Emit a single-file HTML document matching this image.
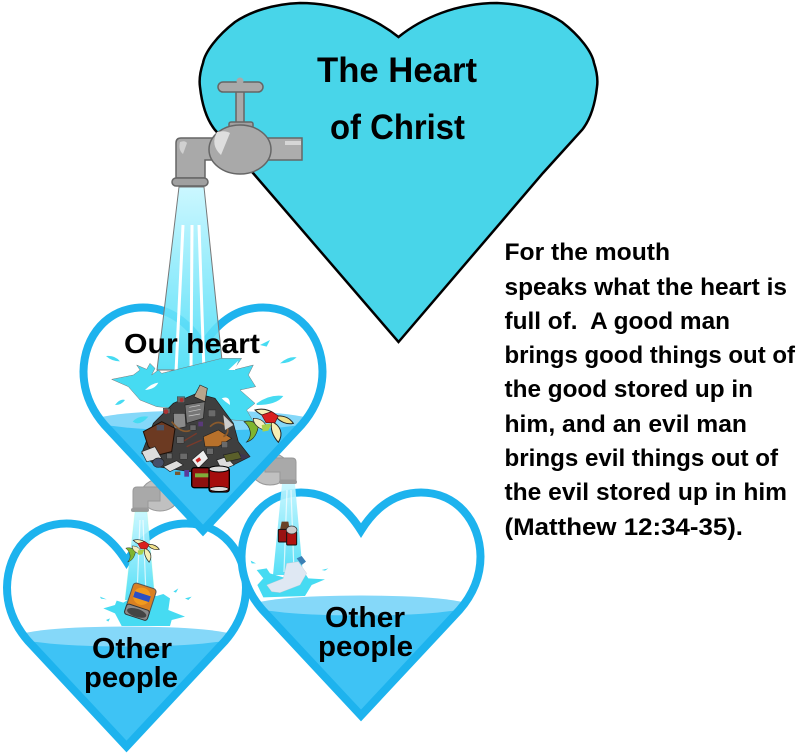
<!DOCTYPE html>
<html><head><meta charset="utf-8"><style>
html,body{margin:0;padding:0;background:#fff}
svg{display:block}
text{font-family:"Liberation Sans",sans-serif;font-weight:bold;fill:#000}
</style></head><body>
<svg width="799" height="755" viewBox="0 0 799 755" xmlns="http://www.w3.org/2000/svg">
<defs>
<path id="hp" d="M0,42C-15,18-35,4-60,4C-95,4-119,32-119.5,68C-119.5,88-112,106-98,122L0,227L98,122C112,106,119.5,88,119.5,68C119,32,95,4,60,4C35,4,15,18,0,42Z"/>
<clipPath id="hc"><use href="#hp"/></clipPath>
<linearGradient id="st" x1="0" y1="0" x2="0" y2="1"><stop offset="0" stop-color="#c4f6ff"/><stop offset=".6" stop-color="#78e6fa"/><stop offset="1" stop-color="#45dcf5"/></linearGradient>
<g id="heart">
<use href="#hp" fill="#fff"/>
<g clip-path="url(#hc)"><rect x="-130" y="117" width="260" height="125" fill="#3ec3f5"/><ellipse cx="0" cy="117" rx="108" ry="10" fill="#85d8f9"/></g>
<use href="#hp" fill="none" stroke="#1db3ee" stroke-width="8" stroke-miterlimit="8"/>
</g>
<g id="peel">
<path d="M462,395C480,390 495,395 505,410C500,435 490,450 470,456C490,435 480,410 462,395Z" fill="#7fb52f" stroke="#222" stroke-width="2"/>
<path d="M495,360C525,352 550,365 560,378C540,385 515,380 495,360Z" fill="#f6efb5" stroke="#222" stroke-width="3"/>
<path d="M555,378C585,375 600,385 610,400C590,405 570,395 555,378Z" fill="#f0e08a" stroke="#222" stroke-width="3"/>
<path d="M545,395C570,405 582,430 565,457C550,440 540,420 545,395Z" fill="#f6efb5" stroke="#222" stroke-width="3"/>
<path d="M490,385C510,385 530,395 530,420C510,420 490,405 490,385Z" fill="#f3eec0" stroke="#222" stroke-width="2"/>
<path d="M515,375L545,365L565,378L555,398L528,398Z" fill="#d92020" stroke="#511" stroke-width="2"/>
<path d="M515,405L545,400L535,422L518,425Z" fill="#a8d14a"/>
</g>
</defs>

<!-- big heart -->
<path d="M398.5,37C375,18,340,3,300,3C272,4,250,12,235,22C217,36,205,52,203,63C200,72,199,80,200,87C202,105,207,120,215,130L253,173L398.5,342L543,173L582,130C590,120,595,105,597,87C598,80,597,72,594,63C592,52,580,36,562,22C547,12,525,4,497,3C457,3,422,18,398.5,37Z" fill="#48d5e9" stroke="#000" stroke-width="2.5"/>
<text x="317" y="82" font-size="35" textLength="160" lengthAdjust="spacingAndGlyphs">The Heart</text>
<text x="330" y="139" font-size="35" textLength="135" lengthAdjust="spacingAndGlyphs">of Christ</text>

<!-- small faucets behind our heart -->
<g>
<ellipse cx="160" cy="495" rx="19" ry="16" fill="#c0c0c0" stroke="#999"/>
<path d="M133,508V491Q133,487,137,487H160V501H148V508Z" fill="#a9a9a9" stroke="#999"/>
<rect x="131" y="508" width="18" height="4" rx="2" fill="#999"/>
<ellipse cx="270" cy="469" rx="19" ry="16" fill="#c0c0c0" stroke="#999"/>
<path d="M296,480V462Q296,458,292,458H265V472H280V480Z" fill="#a9a9a9" stroke="#999"/>
<rect x="279" y="480" width="18" height="4" rx="2" fill="#999"/>
</g>

<!-- hearts -->
<use href="#heart" transform="translate(126.5,519.5)"/>
<use href="#heart" transform="translate(361,488.5)"/>
<use href="#heart" transform="translate(203,303.5)"/>

<!-- small streams -->
<path d="M135,512H147L155,600H125Z" fill="url(#st)" fill-opacity=".9" stroke="#8fb" stroke-opacity=".2"/>
<path d="M140,520L137,595M143,520L146,595" stroke="#fff" stroke-width="1.2" opacity=".7"/>
<path d="M282,484H295L303,575H273Z" fill="url(#st)" fill-opacity=".9"/>
<path d="M287,490L284,572M291,490L294,572" stroke="#fff" stroke-width="1.2" opacity=".7"/>

<!-- main stream -->
<path d="M179,187H204L223,370H157Z" fill="url(#st)" fill-opacity=".88" stroke="#777" stroke-width="1"/>
<path d="M183,225L176,372" stroke="#fff" stroke-width="3"/>
<path d="M192,225L191,372" stroke="#fff" stroke-width="3"/>
<path d="M199,225L204,372" stroke="#fff" stroke-width="3"/>

<!-- main faucet -->
<g stroke="#666" stroke-width="1.5">
<path d="M205,178V160H225V138H181Q176,138,176,143V178Z" fill="#a9a9a9"/>
<rect x="172" y="178" width="36" height="8" rx="4" fill="#a0a0a0"/>
<rect x="255" y="138" width="47" height="22" fill="#adadad"/>
<rect x="236" y="86" width="8" height="40" fill="#a9a9a9"/>
<rect x="218" y="82" width="45" height="10" rx="5" fill="#a9a9a9"/>
<circle cx="240" cy="81" r="3.5" fill="#a9a9a9" stroke="none"/>
<rect x="229" y="122" width="24" height="6" rx="2" fill="#a0a0a0"/>
<ellipse cx="240" cy="149.5" rx="31" ry="24.5" fill="#a9a9a9"/>
</g>
<path d="M217,132Q225,130,230,133L221,155Q210,145,217,132Z" fill="#dedede"/>
<rect x="285" y="141" width="16" height="4" fill="#d6d6d6"/>
<path d="M180,142Q185,140,187,143L183,154Q178,150,180,142Z" fill="#d0d0d0"/>

<!-- big splash (zoom coordinates) -->
<g transform="translate(90,290) scale(.33333)">
<path d="M65,268L130,255L150,240L140,225L170,238L180,220L195,235L185,255L205,240L215,250L395,205L455,205L430,240L490,225L475,255L497,290L450,300L495,340L470,360L490,395L430,390L300,360L200,350L150,330L115,290Z" fill="#46dbf2" stroke="#777" stroke-width="1.5"/>
<path d="M48,198Q75,195,90,214Q65,214,48,198ZM510,165L540,150L530,170ZM570,220Q595,198,620,202Q600,220,570,220ZM500,340Q540,312,580,318Q560,345,500,345ZM75,345Q90,325,105,330Q95,345,75,345ZM128,395Q145,375,175,380Q150,410,128,395Z" fill="#46dbf2"/>
<path d="M165,300Q185,280,205,278Q195,298,165,300ZM415,240L445,212L435,240ZM395,325Q420,315,420,345Q405,335,395,325Z" fill="#fff"/>

<!-- trash pile -->
<path d="M155,490L190,400L250,340L320,310L375,325L430,400L445,455L480,500L420,530L300,545L200,530Z" fill="#3f3f3f" stroke="#1a1a1a" stroke-width="2"/>
<path d="M285,345L345,335L340,385L290,400Z" fill="#777" stroke="#222" stroke-width="2"/>
<path d="M298,352L330,346M296,365L332,358M296,378L330,372" stroke="#ccc" stroke-width="2"/>
<path d="M312,320L330,285L352,295L345,335Z" fill="#b9a58c" stroke="#222" stroke-width="2"/>
<path d="M250,370L285,370L288,410L252,418Z" fill="#8a8a8a" stroke="#222" stroke-width="2"/>
<path d="M160,425L215,395L255,415L245,485L205,495L175,470Z" fill="#6c3a22" stroke="#1c0f08" stroke-width="3"/>
<rect x="200" y="405" width="22" height="16" fill="#4a5568"/>
<path d="M340,440L385,420L425,445L385,470L345,470Z" fill="#b8712b" stroke="#222" stroke-width="2"/>
<path d="M360,410Q385,385,410,410Q420,430,400,440" fill="none" stroke="#8a5a2c" stroke-width="5"/>
<path d="M245,395Q280,440,310,415" fill="none" stroke="#8a5a2c" stroke-width="5"/>
<path d="M270,460L320,430M290,470L335,450" stroke="#7a3a2a" stroke-width="4"/>
<g fill="#6a6a6a" stroke="#1a1a1a">
<rect x="262" y="320" width="22" height="18"/><rect x="220" y="355" width="20" height="16"/><rect x="355" y="360" width="22" height="20"/>
<rect x="300" y="405" width="18" height="16"/><rect x="260" y="440" width="22" height="20"/><rect x="350" y="475" width="20" height="18"/>
<rect x="270" y="490" width="22" height="18"/><rect x="395" y="455" width="18" height="18"/><rect x="230" y="490" width="16" height="16"/>
</g>
<circle cx="228" cy="365" r="7" fill="#a33"/><circle cx="275" cy="330" r="6" fill="#a33"/><rect x="325" y="395" width="14" height="14" fill="#5a3a7a"/><rect x="283" y="540" width="14" height="20" fill="#5a3a9a"/><rect x="255" y="545" width="16" height="10" fill="#7a5a30"/>
<path d="M155,485L195,470L215,505L170,515Z" fill="#ddd" stroke="#222" stroke-width="2"/>
<path d="M220,530L260,512L280,525L240,545Z" fill="#ddd" stroke="#222" stroke-width="2"/>
<path d="M380,510L410,500L432,525L395,540Z" fill="#ddd" stroke="#222" stroke-width="2"/>
<path d="M305,510L340,480L355,505L325,535Z" fill="#eee" stroke="#222" stroke-width="2"/>
<rect x="318" y="505" width="14" height="10" fill="#c22" transform="rotate(-35 325 510)"/>
<ellipse cx="205" cy="518" rx="17" ry="14" fill="#46506a" stroke="#222" stroke-width="2"/>
<path d="M400,495L445,485L455,505L410,515Z" fill="#5a5f2a" stroke="#222" stroke-width="2"/>
<path d="M430,405L400,375L405,420Z" fill="#ccc"/>
<path d="M450,490L480,500L455,510Z" fill="#3d3550"/>
<rect x="305" y="533" width="55" height="60" rx="8" fill="#8d1010" stroke="#000" stroke-width="4"/>
<rect x="357" y="532" width="61" height="74" rx="9" fill="#a50d0d" stroke="#000" stroke-width="4"/>
<ellipse cx="387" cy="537" rx="30" ry="9" fill="#ddd" stroke="#000" stroke-width="3"/>
<ellipse cx="387" cy="597" rx="28" ry="7" fill="#ddd" stroke="#000" stroke-width="2"/>
<rect x="315" y="550" width="40" height="12" fill="#7fae3a"/>
<use href="#peel"/>
</g>

<text x="124" y="353" font-size="28" textLength="136" lengthAdjust="spacingAndGlyphs">Our heart</text>

<!-- small objects -->
<g transform="translate(0,470) scale(.33333)">
<use href="#peel" transform="translate(70,-34) scale(.68) translate(-10,0)" />
<!-- left splash -->
<path d="M310,415L345,405L350,392L370,398L400,380L470,378L490,372L510,385L505,420L555,440L515,450L510,468L365,468L345,430Z" fill="#46dbf2"/>
<path d="M300,380L320,388L303,386ZM555,385L575,380L565,390ZM520,365L535,355L528,368ZM318,450L330,445L325,455Z" fill="#46dbf2"/>
<!-- fanta -->
<g transform="rotate(18 420 395)">
<rect x="385" y="345" width="72" height="98" rx="10" fill="#d98022" stroke="#555" stroke-width="3"/>
<circle cx="420" cy="378" r="26" fill="#f19a1e"/>
<rect x="396" y="370" width="50" height="18" fill="#2c4fc4"/>
<rect x="385" y="412" width="72" height="32" rx="8" fill="#8a8a8a" stroke="#333" stroke-width="3"/>
<ellipse cx="421" cy="430" rx="30" ry="12" fill="#444"/>
</g>
<!-- right splash -->
<path d="M770,300L800,295L810,310L850,322L915,310L925,325L975,328L935,345L915,378L790,382L772,345L790,325Z" fill="#46dbf2"/>
<path d="M752,272L768,280L755,280ZM965,300L985,295L975,302Z" fill="#46dbf2"/>
<!-- bottle -->
<path d="M800,345L850,325L860,280L895,275L920,310L900,345L840,368L815,365Z" fill="#dfe8f3" stroke="#b8c4d0"/>
<path d="M890,265L905,258L918,275L905,285Z" fill="#3b80b5"/>
<!-- cans -->
<path d="M845,155L865,155L870,185L838,190Z" fill="#6b4226"/>
<rect x="835" y="178" width="28" height="38" rx="3" fill="#991313" stroke="#111" stroke-width="3"/>
<rect x="860" y="185" width="30" height="40" rx="3" fill="#b01212" stroke="#111" stroke-width="3"/>
<ellipse cx="875" cy="180" rx="16" ry="12" fill="#ccc" stroke="#333" stroke-width="2"/>
</g>

<text x="92" y="658" font-size="29" textLength="80" lengthAdjust="spacingAndGlyphs">Other</text>
<text x="84" y="687" font-size="29" textLength="94" lengthAdjust="spacingAndGlyphs">people</text>
<text x="325" y="627" font-size="29" textLength="80" lengthAdjust="spacingAndGlyphs">Other</text>
<text x="318" y="656" font-size="29" textLength="95" lengthAdjust="spacingAndGlyphs">people</text>

<!-- right paragraph -->
<g font-size="24.5">
<text x="504.5" y="260" textLength="165.5" lengthAdjust="spacingAndGlyphs">For the mouth</text>
<text x="504.5" y="295" textLength="282.5" lengthAdjust="spacingAndGlyphs">speaks what the heart is</text>
<text x="504.5" y="329" textLength="225.5" lengthAdjust="spacingAndGlyphs" xml:space="preserve">full of.  A good man</text>
<text x="504.5" y="363" textLength="290.5" lengthAdjust="spacingAndGlyphs">brings good things out of</text>
<text x="504.5" y="397" textLength="248.5" lengthAdjust="spacingAndGlyphs">the good stored up in</text>
<text x="504.5" y="432" textLength="242.5" lengthAdjust="spacingAndGlyphs">him, and an evil man</text>
<text x="504.5" y="466" textLength="273.5" lengthAdjust="spacingAndGlyphs">brings evil things out of</text>
<text x="504.5" y="500" textLength="282.5" lengthAdjust="spacingAndGlyphs">the evil stored up in him</text>
<text x="504.5" y="535" textLength="238.5" lengthAdjust="spacingAndGlyphs">(Matthew 12:34-35).</text>
</g>
</svg>
</body></html>
